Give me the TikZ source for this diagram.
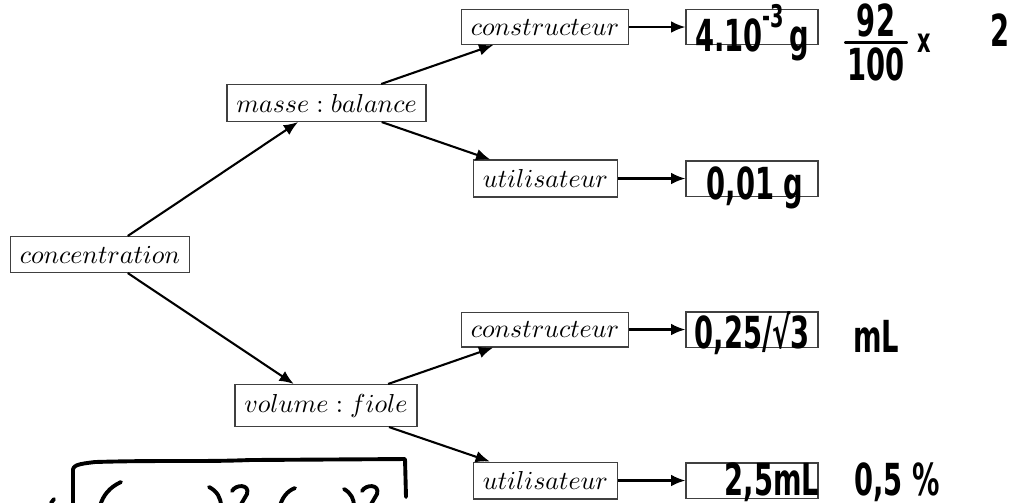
\documentclass[tikz,border=0pt]{standalone}
\usepackage{fontspec}
\newfontfamily\hand{DejaVu Sans}
\usetikzlibrary{arrows.meta}
% marker-like lettering: bold sans squeezed horizontally
\newcommand{\hw}[1]{\scalebox{0.62}[1]{\hand\bfseries\fontsize{17}{19}\selectfont #1}}
\tikzset{
  box/.style={draw=black!75, line width=0.5pt, inner sep=3.6pt, fill=white},
  valbox/.style={draw=black!75, line width=0.5pt, minimum width=50.8pt, minimum height=13.6pt, inner sep=0pt},
  link/.style={line width=0.8pt, -{Latex[length=5.5pt,width=4.5pt]}},
  ink/.style={line width=1.5pt, line cap=round, line join=round},
  hwtext/.style={inner sep=0pt}
}
\begin{document}
\begin{tikzpicture}[x=0.385pt, y=-0.385pt]
  \clip (0,0) rectangle (1033,502);
  \fill[white] (0,0) rectangle (1033,502);

  % tree of uncertainty sources
  \node[box] (conc) at (100,254.5) {$concentration$};
  \node[box] (masse) at (326.5,103) {$masse : balance$};
  \node[box] (vol) at (326,405.5) {$volume : fiole$};
  \node[box] (c1) at (545,27) {$constructeur$};
  \node[box] (u1) at (545.5,178.5) {$utilisateur$};
  \node[box] (c2) at (545,329.5) {$constructeur$};
  \node[box] (u2) at (545.5,480.5) {$utilisateur$};

  % value boxes
  \node[valbox] (r1) at (752,27) {};
  \node[valbox] (r2) at (752,178.5) {};
  \node[valbox] (r3) at (752,329.5) {};
  \node[valbox] (r4) at (752,480.5) {};

  \draw[link] (conc) -- (masse);
  \draw[link] (conc) -- (vol);
  \draw[link] (masse) -- (c1);
  \draw[link] (masse) -- (u1);
  \draw[link] (vol) -- (c2);
  \draw[link] (vol) -- (u2);
  \draw[link] (c1) -- (r1);
  \draw[link] (u1) -- (r2);
  \draw[link] (c2) -- (r3);
  \draw[link] (u2) -- (r4);

  % handwritten values
  \node[hwtext] (v1) at (752,33) {\hw{4.10\raisebox{0.55em}{\fontsize{12}{13}\selectfont -3}\,g}};
  \node[hwtext, anchor=south] (f1) at (876,38) {\hw{92}};
  \node[hwtext, anchor=north] (f2) at (876,47) {\hw{100}};
  \draw[ink] (846,42.5) -- (906,42.5);
  \node[hwtext] (f3) at (924,43) {\hw{\fontsize{13}{14}\selectfont x}};
  \node[hwtext] (f4) at (1000,30) {\hw{2}};

  \node[hwtext] (v2) at (755,188) {\hw{0,01 g}};
  \node[hwtext] (v3) at (752,333) {\hw{0,25/√3}};
  \node[hwtext] (v3u) at (876,336) {\hw{mL}};
  \node[hwtext] (v4) at (772,482) {\hw{2,5mL}};
  \node[hwtext] (v4p) at (897,482) {\hw{0,5 \%}};

  % square root sketched under the tree
  \draw[ink] (51,503) -- (54,499);
  \draw[ink] (73,506) -- (73,472) .. controls (72,465) and (78,464) .. (95,462)
    .. controls (160,460) and (200,462) .. (250,460) -- (405,459) -- (406,497);
  \draw[ink] (121,482) .. controls (110,487) and (103,495) .. (100,506);
  \draw[ink] (209,487) .. controls (217,491) and (221,498) .. (221,506);
  \draw[ink] (232,491) .. controls (236,484) and (250,484) .. (247,494) -- (240,506);
  \draw[ink] (295,488) .. controls (287,491) and (282,498) .. (280,506);
  \draw[ink] (344,489) .. controls (351,493) and (354,499) .. (354,506);
  \draw[ink] (362,491) .. controls (366,484) and (380,484) .. (377,494) -- (370,506);
\end{tikzpicture}
\end{document}
